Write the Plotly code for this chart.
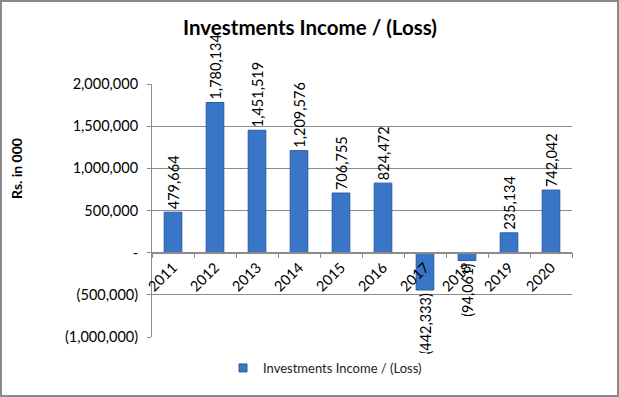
import plotly.graph_objects as go

years = ["2011", "2012", "2013", "2014", "2015", "2016", "2017", "2018", "2019", "2020"]
income = [479664, 1780134, 1451519, 1209576, 706755, 824472, -442333, -94061, 235134, 742042]
y_tickvals = [-1000000, -500000, 0, 500000, 1000000, 1500000, 2000000]
y_ticktext = ["(1,000,000)", "(500,000)", "-", "500,000", "1,000,000", "1,500,000", "2,000,000"]
series_name = "Investments Income / (Loss)"


def fmt(v):
    s = f"{abs(v):,}"
    return f"({s})" if v < 0 else s


W, H = 619, 397
L, R, T, B = 152, 47, 84, 60
pw, ph = W - L - R, H - T - B
FONT = "Lato, 'Liberation Sans', sans-serif"
BAR = "#3a76c8"
EDGE = "#295a9c"

fig = go.Figure()
fig.add_trace(go.Bar(
    x=years, y=income, name=series_name,
    text=[fmt(v) for v in income], textposition="outside", textangle=-90,
    constraintext="none", cliponaxis=False,
    textfont=dict(family=FONT, size=14.5, color="#000000"),
    marker=dict(color=BAR, line=dict(color=EDGE, width=1)),
    width=0.42, showlegend=False,
))
# legend entry with a small square key, like the original
fig.add_trace(go.Scatter(
    x=[None], y=[None], mode="markers", name=series_name,
    marker=dict(symbol="square", size=8, color=BAR, line=dict(color=EDGE, width=1)),
    showlegend=True,
))

fig.update_layout(
    width=W, height=H,
    margin=dict(l=L, r=R, t=T, b=B, autoexpand=False),
    paper_bgcolor="white", plot_bgcolor="white",
    font=dict(family=FONT, size=14.5, color="#000000"),
    title=dict(text="<b>Investments Income / (Loss)</b>", x=310 / W, xanchor="center",
               y=1 - 28 / H, yanchor="middle", font=dict(size=20.5, family=FONT)),
    yaxis=dict(range=[-1000000, 2000000], tickvals=y_tickvals, ticktext=y_ticktext,
               showgrid=True, gridcolor="#8c8c8c", gridwidth=1,
               showline=True, linecolor="#8c8c8c", linewidth=1,
               ticks="outside", ticklen=4, tickcolor="#8c8c8c", ticklabelstandoff=6,
               zeroline=False, tickfont=dict(size=14.5), fixedrange=True),
    xaxis=dict(type="category", anchor="free", position=1 / 3,
               showline=True, linecolor="#8c8c8c", linewidth=1.5,
               ticks="outside", tickson="boundaries", ticklen=5, tickcolor="#8c8c8c",
               tickangle=-45, tickfont=dict(size=14.5), showgrid=False, fixedrange=True),
    legend=dict(orientation="h", x=(325 - L) / pw, xanchor="center",
                y=(T + ph - 368) / ph, yanchor="middle",
                font=dict(size=13, color="#222222"), itemwidth=30),
    shapes=[dict(type="rect", xref="paper", yref="paper",
                 x0=-(L - 1) / pw, x1=(W - L - 1) / pw,
                 y0=-(B - 1) / ph, y1=(T + ph - 1) / ph,
                 line=dict(color="#8a8a8a", width=2), fillcolor="rgba(0,0,0,0)", layer="below")],
    annotations=[dict(text="<b>Rs. in 000</b>", xref="paper", yref="paper",
                      x=-(L - 16) / pw, y=(T + ph - 169) / ph, textangle=-90,
                      showarrow=False, font=dict(size=14), xanchor="center", yanchor="middle")],
)

fig.write_html("out.html", config={"displayModeBar": False},
               post_script="document.body.style.margin='0';document.body.style.padding='0';")
